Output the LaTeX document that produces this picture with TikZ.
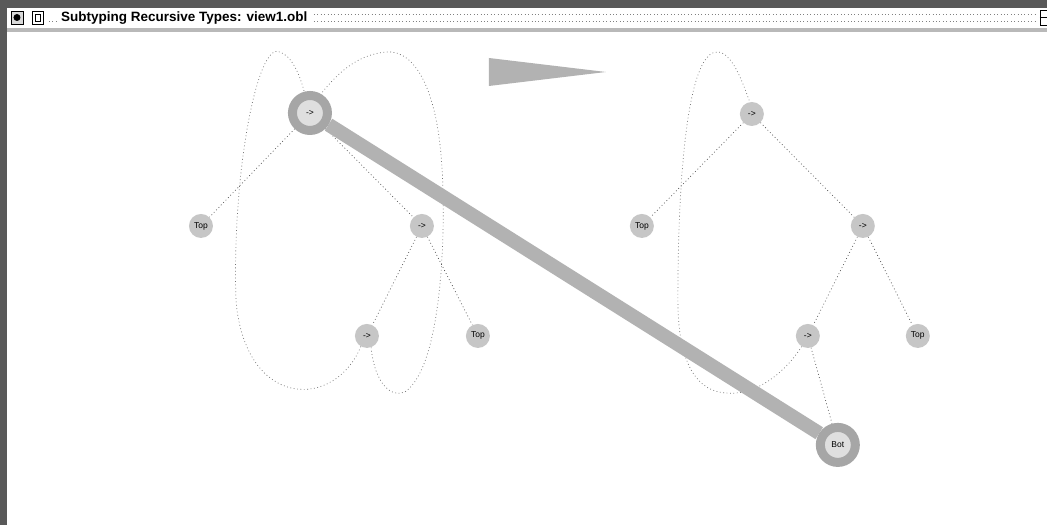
\documentclass[tikz,border=0pt]{standalone}
\usepackage{fontspec}
\setmainfont{Liberation Sans}
\usetikzlibrary{positioning,backgrounds}

\begin{document}
\begin{tikzpicture}[
x=1pt,y=-1pt,
vert/.style={
  circle,
  fill=gray!45,
  inner sep=0pt,
  minimum size=24pt,
  font=\fontsize{8.5}{9}\selectfont
},
sel/.style={
  circle,
  fill=gray!25,
  draw=gray!70,
  line width=9pt,
  inner sep=0pt,
  minimum size=35pt,
  font=\fontsize{8.5}{9}\selectfont
},
tree/.style={
  black!70,
  line width=0.7pt,
  dash pattern=on 0.8pt off 2.6pt
},
back/.style={
  tree,
  black!55
}
]
% window frame
\fill[black!65] (0,0) rectangle (1047,8);
\fill[black!65] (0,0) rectangle (7,525);
\fill[gray!55] (7,28) rectangle (1047,32);
\draw[fill=gray!30] (11,11) rectangle (23,24);
\fill (17,17.5) circle (3.5pt);
\draw[fill=white] (32,11) rectangle (43,24);
\draw (35,14) rectangle (40,21);
\draw (1040,10) rectangle (1047,25);
\draw (1040,17.5) -- (1047,17.5);
\node[anchor=west,inner sep=0pt,font=\bfseries\fontsize{13.5}{15}\selectfont] at (61,18.5)
  (title) {Subtyping Recursive Types: view1.obl};
\draw[tree,black!50] (314,14.5) -- (1035,14.5);
\draw[tree,black!50] (314,21.5) -- (1035,21.5);
\draw[tree,black!50] (49,21.5) -- (57,21.5);

% left tree
\node[sel] at (310,113)
  (l0) {->};
\node[vert] at (201,226)
  (lt) {Top};
\node[vert] at (422,226)
  (l1) {->};
\node[vert] at (367,336)
  (l3) {->};
\node[vert] at (478,336)
  (l4) {Top};

% right tree
\node[vert] at (752,114)
  (r0) {->};
\node[vert] at (642,226)
  (rt) {Top};
\node[vert] at (863,226)
  (r1) {->};
\node[vert] at (808,336)
  (r3) {->};
\node[vert] at (918,336)
  (r4) {Top};
\node[sel] at (838,445)
  (bot) {Bot};

\fill[gray!60] (489,58) -- (489,86) -- (606,72) -- cycle;

\begin{scope}[on background layer]
\fill[white] (0,0) rectangle (1047,525);
\draw[tree] (l0) -- (lt);
\draw[tree] (l0) -- (l1);
\draw[tree] (l1) -- (l3);
\draw[tree] (l1) -- (l4);
\draw[tree] (r0) -- (rt);
\draw[tree] (r0) -- (r1);
\draw[tree] (r1) -- (r3);
\draw[tree] (r1) -- (r4);
\draw[tree] (r3) -- (bot);

% back edges
\draw[back] (l3.-120) .. controls (335,410) and (245,410) .. (236,300)
  .. controls (232,170) and (258,40) .. (280,52)
  .. controls (292,56) and (300,75) .. (l0.105);
\draw[back] (l3.-70) .. controls (375,385) and (392,398) .. (405,392)
  .. controls (438,370) and (445,260) .. (443,190)
  .. controls (441,90) and (415,50) .. (387,52)
  .. controls (360,54) and (340,70) .. (l0.60);
\draw[back] (r3.-120) .. controls (780,380) and (750,396) .. (725,393)
  .. controls (690,390) and (678,350) .. (678,300)
  .. controls (678,160) and (690,50) .. (718,52)
  .. controls (732,53) and (742,80) .. (r0.100);

\draw[gray!60,line width=14pt] (l0) -- (bot);
\end{scope}
\end{tikzpicture}
\end{document}
